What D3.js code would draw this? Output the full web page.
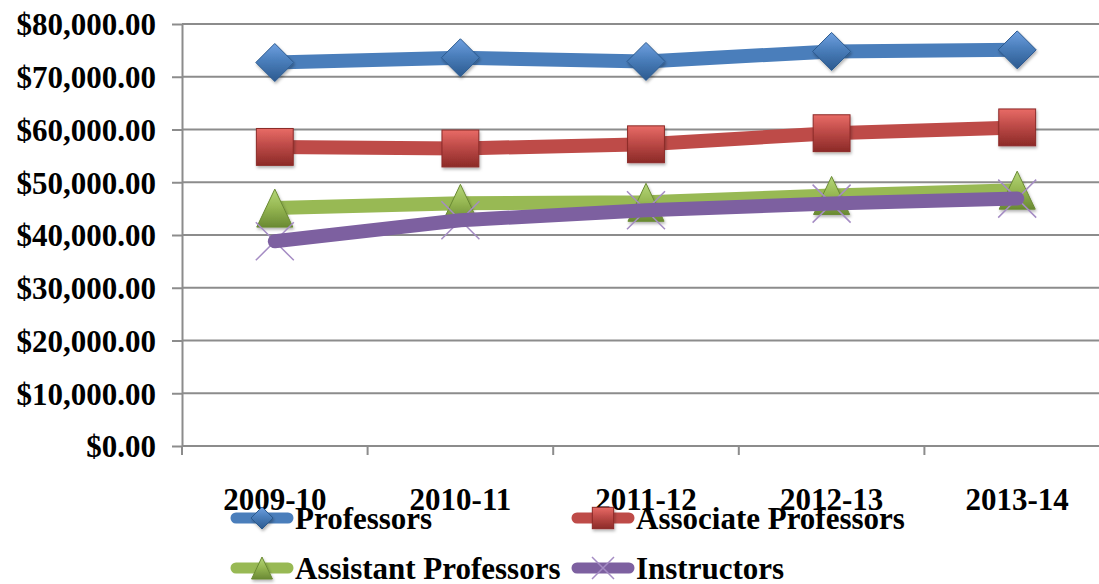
<!DOCTYPE html>
<html>
<head>
<meta charset="utf-8">
<script src="https://cdn.jsdelivr.net/npm/d3@7"></script>
<style>
  body { margin: 0; background: #fff; }
  text { font-family: "Liberation Serif", "Times New Roman", serif; font-weight: bold; fill: #000; }
</style>
</head>
<body>
<script>
// data
var years = ["2009-10", "2010-11", "2011-12", "2012-13", "2013-14"];
var seriesNames = ["Professors", "Associate Professors", "Assistant Professors", "Instructors"];
var professors = [72700, 73600, 72900, 74800, 75100];
var associate = [56700, 56400, 57200, 59300, 60400];
var assistant = [45100, 46000, 46200, 47500, 48500];
var instructors = [38800, 42800, 44700, 45950, 46900];
var yTicks = [0, 10000, 20000, 30000, 40000, 50000, 60000, 70000, 80000];

var colors = ["#4a7ebb", "#be4b48", "#98b954", "#7d60a0"];
var darker = ["#2c5a8f", "#8c2a27", "#6a8a33", "#5c4480"];
var lighter = ["#6fa0e0", "#e86b66", "#b5d77a", "#a58cc4"];
var shapes = ["diamond", "square", "triangle", "x"];

var allSeries = [professors, associate, assistant, instructors].map(function(v, i) {
    return { name: seriesNames[i], values: v, color: colors[i], shape: shapes[i], idx: i };
});

var W = 1099, H = 584;
var plotLeft = 182, plotTop = 24, plotBottom = 446, plotRight = 1110;

var svg = d3.select("body").append("svg")
    .attr("width", W)
    .attr("height", H);

var defs = svg.append("defs");
colors.forEach(function(c, i) {
    var g = defs.append("linearGradient").attr("id", "grad" + i)
        .attr("x1", 0).attr("y1", 0).attr("x2", 0).attr("y2", 1);
    g.append("stop").attr("offset", "0%").attr("stop-color", lighter[i]);
    g.append("stop").attr("offset", "45%").attr("stop-color", c);
    g.append("stop").attr("offset", "100%").attr("stop-color", darker[i]);
});
var shadow = defs.append("filter").attr("id", "shadow")
    .attr("x", "-30%").attr("y", "-30%").attr("width", "160%").attr("height", "160%");
shadow.append("feDropShadow").attr("dx", 1).attr("dy", 2).attr("stdDeviation", 1.5)
    .attr("flood-color", "#000").attr("flood-opacity", 0.3);

var x = d3.scaleBand().domain(years).range([plotLeft, plotRight]);
var y = d3.scaleLinear().domain([0, 80000]).range([plotBottom, plotTop]);
var fmt = d3.format("$,.2f");

// gridlines
svg.append("g").selectAll("line").data(yTicks).enter().append("line")
    .attr("x1", plotLeft).attr("x2", W)
    .attr("y1", function(d) { return y(d); })
    .attr("y2", function(d) { return y(d); })
    .attr("stroke", "#8c8c8c").attr("stroke-width", 2);

// y axis
var yAxis = svg.append("g").attr("transform", "translate(" + plotLeft + ",0)")
    .call(d3.axisLeft(y).tickValues(yTicks).tickFormat(fmt).tickSize(10).tickPadding(16).tickSizeOuter(0));
yAxis.select(".domain").attr("stroke", "#8c8c8c").attr("stroke-width", 2);
yAxis.selectAll(".tick line").attr("stroke", "#8c8c8c").attr("stroke-width", 2);
yAxis.selectAll("text").style("font-size", "31px").attr("dy", "0.35em")
    .attr("font-family", null).attr("fill", "#000");

// x axis
var xAxis = svg.append("g").attr("transform", "translate(0," + plotBottom + ")")
    .call(d3.axisBottom(x).tickSize(0).tickPadding(42));
xAxis.select(".domain").remove();
xAxis.selectAll("text").style("font-size", "31px").attr("font-family", null).attr("fill", "#000");
svg.append("g").selectAll("line").data(years).enter().append("line")
    .attr("x1", function(d) { return x(d); })
    .attr("x2", function(d) { return x(d); })
    .attr("y1", plotBottom).attr("y2", plotBottom + 9)
    .attr("stroke", "#8c8c8c").attr("stroke-width", 2);

function drawMarker(g, s, cx, cy, size) {
    var r = size / 2;
    if (s.shape === "diamond") {
        g.append("path")
            .attr("d", "M" + cx + "," + (cy - r) + "L" + (cx + r) + "," + cy + "L" + cx + "," + (cy + r) + "L" + (cx - r) + "," + cy + "Z")
            .attr("fill", "url(#grad" + s.idx + ")").attr("stroke", darker[s.idx]).attr("stroke-width", 1)
            .attr("filter", "url(#shadow)");
    } else if (s.shape === "square") {
        var a = r * 0.97;
        g.append("rect").attr("x", cx - a).attr("y", cy - a).attr("width", 2 * a).attr("height", 2 * a)
            .attr("fill", "url(#grad" + s.idx + ")").attr("stroke", darker[s.idx]).attr("stroke-width", 1)
            .attr("filter", "url(#shadow)");
    } else if (s.shape === "triangle") {
        var h = r;
        g.append("path")
            .attr("d", "M" + cx + "," + (cy - h) + "L" + (cx + h * 0.95) + "," + (cy + h) + "L" + (cx - h * 0.95) + "," + (cy + h) + "Z")
            .attr("fill", "url(#grad" + s.idx + ")").attr("stroke", darker[s.idx]).attr("stroke-width", 1)
            .attr("filter", "url(#shadow)");
    } else {
        var b = r;
        g.append("path")
            .attr("d", "M" + (cx - b) + "," + (cy - b) + "L" + (cx + b) + "," + (cy + b) + "M" + (cx - b) + "," + (cy + b) + "L" + (cx + b) + "," + (cy - b))
            .attr("stroke", lighter[s.idx]).attr("stroke-width", 1.5).attr("fill", "none");
    }
}

var line = d3.line()
    .x(function(d, i) { return x(years[i]) + x.bandwidth() / 2; })
    .y(function(d) { return y(d); });

allSeries.forEach(function(s) {
    var g = svg.append("g");
    if (s.shape === "x") {
        // markers under the line for instructors
        s.values.forEach(function(v, i) {
            drawMarker(g, s, x(years[i]) + x.bandwidth() / 2, y(v), 38);
        });
    }
    g.append("path").datum(s.values)
        .attr("d", line)
        .attr("fill", "none")
        .attr("stroke", s.color)
        .attr("stroke-width", 14)
        .attr("stroke-linecap", "round")
        .attr("stroke-linejoin", "round");
    if (s.shape !== "x") {
        s.values.forEach(function(v, i) {
            drawMarker(g, s, x(years[i]) + x.bandwidth() / 2, y(v), 38);
        });
    }
});

// legend
var legendPos = [[231, 518], [572, 518], [231, 568], [572, 568]];
allSeries.forEach(function(s, i) {
    var lg = svg.append("g").attr("transform", "translate(" + legendPos[i][0] + "," + legendPos[i][1] + ")");
    lg.append("line").attr("x1", 5).attr("x2", 57).attr("y1", 0).attr("y2", 0)
        .attr("stroke", s.color).attr("stroke-width", 11).attr("stroke-linecap", "round");
    drawMarker(lg, s, 31, 0, 22);
    lg.append("text").attr("x", 64).attr("y", 0).attr("dy", "0.35em")
        .style("font-size", "31px").text(s.name);
});
</script>
</body>
</html>
